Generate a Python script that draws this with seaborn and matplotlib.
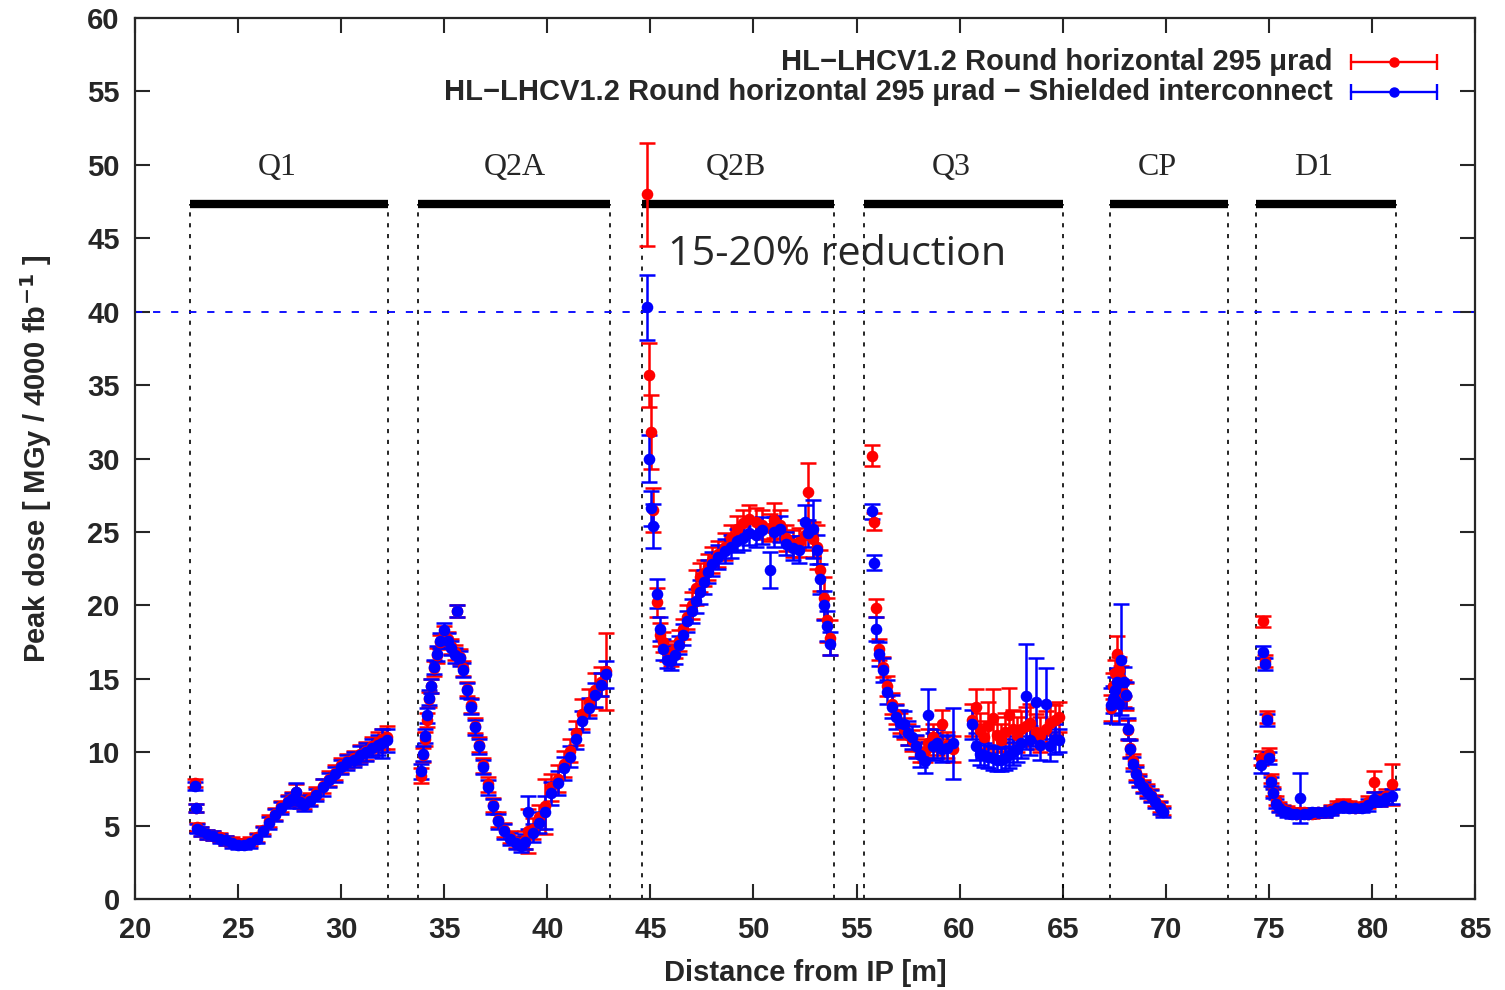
import numpy as np
import pandas as pd
import matplotlib
matplotlib.use("Agg")
import matplotlib.pyplot as plt
import seaborn as sns

# ---------------- data ----------------
q1_x = [22.9, 22.95, 23.0, 23.2, 23.5, 23.8, 24.1, 24.4, 24.7, 25.0, 25.3, 25.6, 25.9, 26.2, 26.5, 26.8,
        27.1, 27.4, 27.6, 27.8, 28.0, 28.2, 28.5, 28.8, 29.1, 29.4, 29.7, 30.0, 30.3, 30.6, 30.9, 31.2,
        31.5, 31.8, 32.0, 32.2]
q1_red = [7.9, 6.2, 4.9, 4.6, 4.4, 4.3, 4.2, 4.0, 3.9, 3.8, 3.8, 3.9, 4.2, 4.7, 5.3, 5.8,
          6.3, 6.7, 6.9, 7.3, 6.7, 6.5, 6.8, 7.2, 7.7, 8.2, 8.6, 9.1, 9.4, 9.6, 9.9, 10.1,
          10.4, 10.7, 10.9, 11.0]
q1_red_err = [0.3, 0.3, 0.3, 0.3, 0.3, 0.3, 0.3, 0.3, 0.3, 0.3, 0.3, 0.3, 0.3, 0.3, 0.4, 0.4,
              0.4, 0.4, 0.4, 0.5, 0.4, 0.4, 0.4, 0.4, 0.5, 0.5, 0.5, 0.5, 0.5, 0.5, 0.6, 0.6,
              0.6, 0.7, 0.7, 0.8]
q1_blue = [7.7, 6.2, 4.8, 4.6, 4.4, 4.3, 4.1, 4.0, 3.8, 3.7, 3.7, 3.8, 4.1, 4.6, 5.2, 5.7,
           6.2, 6.6, 6.8, 7.3, 6.6, 6.4, 6.7, 7.1, 7.6, 8.1, 8.5, 9.0, 9.3, 9.5, 9.8, 10.0,
           10.3, 10.5, 10.6, 10.8]
q1_blue_err = [0.3, 0.3, 0.3, 0.3, 0.3, 0.3, 0.3, 0.3, 0.3, 0.3, 0.3, 0.3, 0.3, 0.3, 0.4, 0.4,
               0.4, 0.4, 0.4, 0.6, 0.4, 0.4, 0.4, 0.4, 0.6, 0.5, 0.5, 0.5, 0.5, 0.5, 0.6, 0.6,
               0.6, 0.7, 1.0, 0.8]

q2a_x = [33.85, 33.95, 34.05, 34.15, 34.25, 34.35, 34.5, 34.65, 34.8, 35.0, 35.2, 35.35, 35.5, 35.6,
         35.75, 35.9, 36.1, 36.3, 36.5, 36.7, 36.9, 37.1, 37.35, 37.6, 37.9, 38.2, 38.5, 38.7, 38.9,
         39.05, 39.3, 39.6, 39.9, 40.2, 40.5, 40.8, 41.1, 41.4, 41.7, 42.0, 42.3, 42.6, 42.85]
q2a_red = [8.4, 9.8, 10.9, 12.2, 13.6, 14.5, 15.7, 16.6, 17.5, 18.1, 17.7, 17.2, 16.8, 19.6,
           16.5, 15.7, 14.3, 13.2, 11.8, 10.5, 9.1, 7.8, 6.4, 5.4, 4.7, 4.2, 3.9, 3.8, 4.0,
           4.6, 4.8, 5.6, 6.3, 7.6, 8.2, 9.2, 10.1, 11.3, 12.6, 13.4, 14.2, 14.8, 15.5]
q2a_red_err = [0.5, 0.5, 0.5, 0.5, 0.5, 0.5, 0.5, 0.5, 0.5, 0.5, 0.5, 0.5, 0.5, 0.4,
               0.5, 0.5, 0.5, 0.5, 0.5, 0.5, 0.5, 0.5, 0.5, 0.5, 0.5, 0.4, 0.4, 0.4, 0.6,
               1.5, 0.7, 0.8, 1.9, 0.9, 0.9, 0.9, 0.8, 0.8, 1.0, 0.9, 1.2, 1.0, 2.6]
q2a_blue = [8.7, 9.9, 11.1, 12.5, 13.7, 14.5, 15.8, 16.7, 17.6, 18.3, 17.6, 17.1, 16.6, 19.6,
            16.4, 15.6, 14.2, 13.1, 11.7, 10.4, 9.0, 7.6, 6.3, 5.3, 4.6, 4.1, 3.8, 3.6, 3.9,
            5.9, 4.5, 5.2, 5.9, 7.2, 7.9, 8.9, 9.7, 10.9, 12.1, 13.0, 13.9, 14.6, 15.3]
q2a_blue_err = [0.5, 0.5, 0.5, 0.5, 0.5, 0.5, 0.5, 0.5, 0.5, 0.5, 0.5, 0.5, 0.5, 0.4,
                0.5, 0.5, 0.5, 0.5, 0.5, 0.5, 0.5, 0.5, 0.5, 0.5, 0.5, 0.4, 0.4, 0.4, 0.5,
                1.1, 0.6, 0.7, 1.1, 0.8, 0.8, 0.8, 0.7, 0.7, 0.7, 0.7, 0.8, 0.8, 0.9]

q2b_x = [44.85, 44.95, 45.05, 45.15, 45.3, 45.45, 45.6, 45.8, 46.0, 46.2, 46.4, 46.6, 46.8, 47.0,
         47.2, 47.4, 47.6, 47.8, 48.0, 48.3, 48.6, 48.9, 49.2, 49.5, 49.8, 50.1, 50.4, 50.8,
         51.0, 51.3, 51.6, 51.9, 52.2, 52.5, 52.65, 52.9, 53.1, 53.25, 53.4, 53.55, 53.7]
q2b_red = [48.0, 35.7, 31.8, 26.5, 20.2, 18.0, 17.5, 16.8, 16.5, 17.0, 17.6, 18.4, 19.2, 20.0,
           21.2, 21.9, 22.2, 22.6, 23.1, 23.5, 24.0, 24.6, 25.2, 25.6, 25.9, 25.7, 25.5, 25.3,
           25.8, 25.5, 24.6, 24.2, 24.3, 24.8, 27.7, 24.5, 24.0, 22.4, 20.5, 19.0, 17.8]
q2b_red_err = [3.5, 2.2, 2.5, 1.5, 1.0, 0.8, 0.7, 0.6, 0.6, 0.6, 0.7, 0.7, 0.8, 0.9,
               1.2, 1.0, 0.9, 0.9, 0.9, 0.9, 0.9, 0.9, 0.9, 0.9, 0.9, 0.9, 1.0, 0.9,
               1.2, 1.0, 0.9, 0.9, 1.0, 1.0, 2.0, 1.2, 1.5, 1.4, 1.4, 1.5, 1.2]
q2b_blue = [40.3, 30.0, 26.6, 25.4, 20.8, 18.4, 17.0, 16.3, 16.2, 16.6, 17.3, 18.0, 18.9, 19.6,
            20.3, 20.9, 21.6, 22.3, 22.8, 23.3, 23.7, 24.0, 24.4, 24.6, 24.9, 24.8, 25.1, 22.4,
            25.0, 25.2, 24.2, 23.9, 23.8, 25.7, 24.9, 25.2, 23.8, 21.8, 20.0, 18.6, 17.4]
q2b_blue_err = [2.2, 1.6, 1.2, 1.5, 1.0, 0.8, 0.7, 0.6, 0.6, 0.6, 0.6, 0.7, 0.7, 0.8,
                0.8, 0.8, 0.8, 0.8, 0.8, 0.8, 0.8, 0.8, 0.8, 0.8, 0.8, 0.8, 0.9, 1.2,
                1.0, 0.9, 0.8, 0.8, 0.9, 1.1, 0.9, 2.0, 1.0, 1.0, 1.0, 1.0, 0.8]

q3_x = [55.75, 55.85, 55.95, 56.1, 56.3, 56.5, 56.7, 56.9, 57.1, 57.3, 57.5, 57.7, 57.9, 58.1,
        58.3, 58.45, 58.7, 58.9, 59.15, 59.4, 59.7, 60.6, 60.8, 61.0, 61.2, 61.4, 61.6, 61.8,
        62.0, 62.2, 62.4, 62.6, 62.8, 63.0, 63.2, 63.4, 63.7, 63.9, 64.2, 64.4, 64.65, 64.8]
q3_red = [30.2, 25.7, 19.8, 17.0, 15.8, 14.5, 13.3, 12.6, 12.0, 11.6, 11.2, 10.8, 10.4, 10.0,
          10.1, 10.6, 11.0, 10.7, 11.9, 10.5, 10.2, 12.2, 13.1, 11.5, 11.0, 11.8, 12.3, 11.2,
          10.8, 11.4, 12.5, 11.6, 11.2, 11.6, 11.8, 12.0, 11.4, 11.2, 11.6, 12.0, 12.2, 12.4]
q3_red_err = [0.7, 0.6, 0.6, 0.7, 0.7, 0.7, 0.7, 0.7, 0.7, 0.7, 0.7, 0.7, 0.7, 0.7,
              0.8, 1.0, 0.9, 0.9, 1.0, 0.9, 0.9, 1.1, 1.2, 1.2, 1.1, 1.6, 2.0, 1.2,
              1.1, 1.3, 1.9, 1.3, 1.2, 1.2, 1.3, 1.3, 1.2, 1.2, 1.2, 1.3, 1.0, 1.0]
q3_blue = [26.4, 22.9, 18.4, 16.7, 15.6, 14.1, 13.1, 12.4, 12.0, 11.9, 11.3, 11.0, 10.4, 9.8,
           9.4, 12.5, 10.4, 10.6, 10.2, 10.3, 10.6, 11.9, 10.4, 9.9, 9.8, 9.7, 9.6, 9.5,
           9.5, 9.6, 9.8, 10.0, 10.2, 10.6, 13.8, 10.8, 13.4, 10.5, 13.3, 10.4, 10.9, 10.8]
q3_blue_err = [0.5, 0.5, 0.8, 0.8, 0.8, 0.8, 0.8, 0.8, 0.9, 0.9, 0.8, 0.8, 0.8, 0.8,
               0.8, 1.8, 0.9, 1.0, 0.9, 0.9, 2.4, 1.0, 0.9, 0.8, 0.8, 0.8, 0.8, 0.8,
               0.8, 0.8, 0.9, 0.9, 0.9, 1.0, 3.6, 1.0, 3.0, 1.0, 2.4, 1.0, 1.0, 0.8]

cp_x = [67.35, 67.45, 67.55, 67.65, 67.75, 67.85, 67.95, 68.05, 68.15, 68.25, 68.4, 68.55, 68.7,
        68.9, 69.1, 69.3, 69.5, 69.7, 69.85]
cp_red = [13.0, 14.5, 15.4, 16.7, 15.6, 15.0, 14.0, 13.8, 11.5, 10.3, 9.4, 8.6, 8.1,
          7.7, 7.4, 7.1, 6.7, 6.3, 6.0]
cp_red_err = [0.9, 0.9, 0.9, 1.2, 0.9, 0.9, 0.9, 0.9, 0.7, 0.6, 0.5, 0.5, 0.4,
              0.4, 0.4, 0.4, 0.4, 0.4, 0.3]
cp_blue = [13.2, 13.6, 14.2, 14.8, 13.3, 16.3, 14.8, 13.9, 11.6, 10.2, 9.2, 8.5, 8.0,
           7.6, 7.3, 7.0, 6.6, 6.2, 5.9]
cp_blue_err = [1.2, 0.9, 0.9, 0.9, 1.4, 3.8, 1.0, 0.9, 0.7, 0.6, 0.5, 0.5, 0.4,
               0.4, 0.4, 0.4, 0.4, 0.4, 0.3]

d1_x = [74.6, 74.7, 74.8, 74.9, 75.0, 75.1, 75.2, 75.35, 75.5, 75.7, 75.9, 76.1, 76.3, 76.5,
        76.7, 76.9, 77.1, 77.4, 77.7, 78.0, 78.3, 78.6, 78.9, 79.2, 79.5, 79.8, 80.1, 80.4,
        80.7, 80.95]
d1_red = [9.6, 18.9, 16.2, 12.4, 9.9, 8.2, 7.3, 6.7, 6.3, 6.1, 6.0, 5.9, 5.8, 5.9,
          5.9, 5.8, 5.8, 5.9, 5.9, 6.1, 6.4, 6.5, 6.4, 6.2, 6.3, 6.6, 8.0, 6.8,
          7.0, 7.8]
d1_red_err = [0.5, 0.4, 0.4, 0.4, 0.4, 0.3, 0.3, 0.3, 0.3, 0.3, 0.3, 0.3, 0.3, 0.3,
              0.3, 0.3, 0.3, 0.3, 0.3, 0.3, 0.3, 0.3, 0.3, 0.3, 0.3, 0.4, 0.7, 0.5,
              0.5, 1.4]
d1_blue = [9.1, 16.8, 16.0, 12.2, 9.6, 8.0, 7.2, 6.5, 6.2, 6.0, 5.9, 5.8, 5.8, 6.9,
           5.8, 5.8, 5.9, 5.9, 5.9, 6.0, 6.2, 6.3, 6.2, 6.2, 6.2, 6.4, 6.8, 6.7,
           6.9, 7.0]
d1_blue_err = [0.5, 0.4, 0.4, 0.4, 0.4, 0.3, 0.3, 0.3, 0.3, 0.3, 0.3, 0.3, 0.3, 1.7,
               0.3, 0.3, 0.3, 0.3, 0.3, 0.3, 0.3, 0.3, 0.3, 0.3, 0.3, 0.4, 0.5, 0.4,
               0.4, 0.5]

magnet_names = ["Q1", "Q2A", "Q2B", "Q3", "CP", "D1"]
magnet_start = [22.67, 33.73, 44.6, 55.36, 67.3, 74.38]
magnet_end = [32.27, 43.04, 53.91, 65.02, 73.02, 81.17]
magnet_label_x = [26.9, 38.4, 49.15, 59.6, 69.6, 77.15]
magnet_bar_y = 47.3
limit_y = 40.0

series_red = "HL\u2212LHCV1.2 Round horizontal 295 \u03bcrad"
series_blue = "HL\u2212LHCV1.2 Round horizontal 295 \u03bcrad \u2212 Shielded interconnect"

segments = [
    (q1_x, q1_red, q1_red_err, q1_blue, q1_blue_err),
    (q2a_x, q2a_red, q2a_red_err, q2a_blue, q2a_blue_err),
    (q2b_x, q2b_red, q2b_red_err, q2b_blue, q2b_blue_err),
    (q3_x, q3_red, q3_red_err, q3_blue, q3_blue_err),
    (cp_x, cp_red, cp_red_err, cp_blue, cp_blue_err),
    (d1_x, d1_red, d1_red_err, d1_blue, d1_blue_err),
]

rows = []
for xs, r, re, b, be in segments:
    for i in range(len(xs)):
        rows.append((xs[i], r[i], re[i], series_red))
    for i in range(len(xs)):
        rows.append((xs[i], b[i], be[i], series_blue))
df = pd.DataFrame(rows, columns=["x", "dose", "err", "series"])

# ---------------- style ----------------
sns.set_style("ticks")
plt.rcParams['font.family'] = ['Liberation Sans', 'DejaVu Sans']
plt.rcParams['font.weight'] = 'bold'

RED = "#ff0000"
BLUE = "#0000ff"
FS = 21

fig = plt.figure(figsize=(15.05, 9.9), dpi=100)
ax = fig.add_axes([135 / 1505, 1 - 899 / 990, 1340 / 1505, 881 / 990])

for name, col in [(series_red, RED), (series_blue, BLUE)]:
    sub = df[df["series"] == name]
    ax.errorbar(sub["x"], sub["dose"], yerr=sub["err"], fmt="none", ecolor=col,
                elinewidth=1.8, capsize=5.5, capthick=1.8, zorder=3)
    sns.scatterplot(data=sub, x="x", y="dose", color=col, s=70, edgecolor=col,
                    linewidth=0, ax=ax, zorder=4, legend=False)

# magnets
for s, e, lx, nm in zip(magnet_start, magnet_end, magnet_label_x, magnet_names):
    ax.plot([s, e], [magnet_bar_y, magnet_bar_y], color="black", lw=6, solid_capstyle="butt", zorder=2)
    for v in (s, e):
        ax.plot([v, v], [0, magnet_bar_y], color="black", lw=1.2, ls=(0, (2.5, 4)), zorder=1)
    ax.text(lx, 49.8, nm, ha="center", va="center", fontsize=23, fontweight="normal",
            family=["Liberation Serif", "DejaVu Serif"])

ax.axhline(limit_y, color=BLUE, lw=1.3, ls=(0, (4, 6)), zorder=1)

ax.text(45.85, 43.85, "15-20% reduction", ha="left", va="center", fontsize=29.8,
        fontweight="normal", family=["Open Sans", "DejaVu Sans"])

# legend (gnuplot style)
for yy, lab, col in [(0.950, series_red, RED), (0.916, series_blue, BLUE)]:
    ax.text(0.894, yy, lab, transform=ax.transAxes, ha="right", va="center",
            fontsize=FS, fontweight="bold")
    ax.plot([0.9075, 0.9716], [yy, yy], transform=ax.transAxes, color=col, lw=1.7)
    ax.plot([0.9075, 0.9716], [yy, yy], transform=ax.transAxes, color=col, lw=0,
            marker="|", markersize=11, markeredgewidth=1.7)
    ax.plot([0.9396], [yy], transform=ax.transAxes, color=col, marker="o", markersize=6.5)

ax.set_xlim(20, 85)
ax.set_ylim(0, 60)
ax.set_xticks(np.arange(20, 86, 5))
ax.set_yticks(np.arange(0, 61, 5))
ax.tick_params(direction="in", length=11, width=1.5, top=True, right=True,
               labelsize=FS)
ax.tick_params(axis="x", pad=12)
ax.tick_params(axis="y", pad=11)
for lab in ax.get_xticklabels() + ax.get_yticklabels():
    lab.set_fontweight("bold")
for sp in ax.spines.values():
    sp.set_linewidth(1.6)
    sp.set_visible(True)

ax.set_xlabel("Distance from IP [m]", fontsize=FS, fontweight="bold", labelpad=11)
ax.set_ylabel("Peak dose [ MGy / 4000 fb$^{\\mathbf{-1}}$ ]", fontsize=FS, fontweight="bold", labelpad=24)

fig.savefig("out.png", dpi=100)
